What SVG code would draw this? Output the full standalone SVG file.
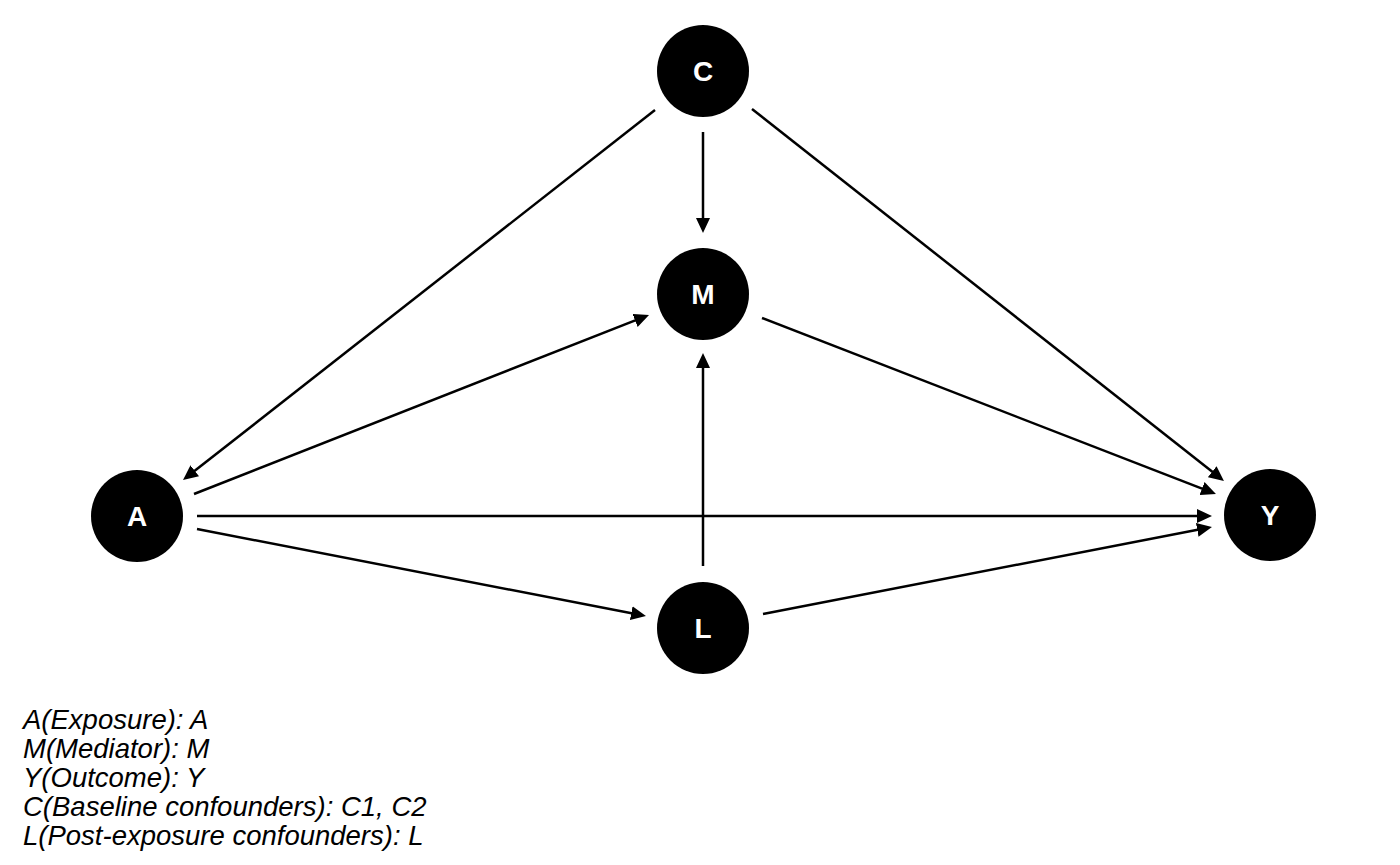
<svg xmlns="http://www.w3.org/2000/svg" width="1400" height="865" viewBox="0 0 1400 865">
<style>
.node circle{fill:#000;}
.node text{fill:#fff;font-family:"Liberation Sans",Arial,sans-serif;font-weight:bold;font-size:28px;text-anchor:middle;}
.edges line{stroke:#000;stroke-width:2.5;fill:none;marker-end:url(#arr);}
.legend text{font-family:"Liberation Sans",Arial,sans-serif;font-style:italic;font-size:27.5px;fill:#000;}
</style>
<defs>
<marker id="arr" markerUnits="userSpaceOnUse" markerWidth="15" markerHeight="14" refX="7" refY="7" orient="auto" viewBox="0 0 15 14">
<path d="M0,0 L15,7 L0,14 z" fill="#000"/>
</marker>
</defs>
<rect width="1400" height="865" fill="#fff"/>
<g id="edges" class="edges">
<line x1="655" y1="110" x2="189.3" y2="475.1"/>
<line x1="703" y1="132" x2="703" y2="225"/>
<line x1="752" y1="109" x2="1217.7" y2="476"/>
<line x1="194" y1="494" x2="641.6" y2="317.9"/>
<line x1="197" y1="516" x2="1204" y2="516"/>
<line x1="197" y1="529" x2="638.1" y2="614.5"/>
<line x1="703" y1="566" x2="703" y2="361"/>
<line x1="762" y1="318" x2="1208.5" y2="491.1"/>
<line x1="763" y1="614" x2="1204.1" y2="528.5"/>
</g>
<g id="node-C" class="node"><circle cx="703" cy="71" r="46"/><text x="703" y="81">C</text></g>
<g id="node-M" class="node"><circle cx="703" cy="294" r="46"/><text x="703" y="304">M</text></g>
<g id="node-A" class="node"><circle cx="137" cy="516" r="46"/><text x="137" y="526">A</text></g>
<g id="node-L" class="node"><circle cx="703" cy="628" r="46"/><text x="703" y="638">L</text></g>
<g id="node-Y" class="node"><circle cx="1270" cy="515" r="46"/><text x="1270" y="525">Y</text></g>
<g id="legend" class="legend">
<text x="23" y="729">A(Exposure): A</text>
<text x="23" y="758">M(Mediator): M</text>
<text x="23" y="787">Y(Outcome): Y</text>
<text x="23" y="816">C(Baseline confounders): C1, C2</text>
<text x="23" y="845">L(Post-exposure confounders): L</text>
</g>
</svg>
